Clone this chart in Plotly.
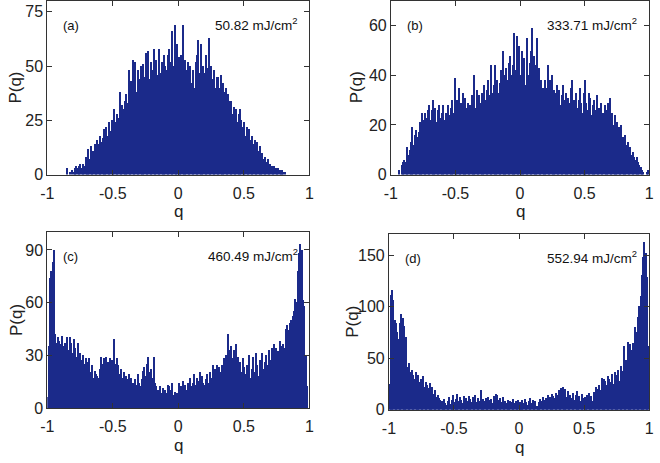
import numpy as np
import plotly.graph_objects as go

# bin centres of the q histograms (bin width 0.01 on [-1, 1])
q_bins = np.round(np.arange(-0.995, 1.0, 0.01), 3)

labels = ["(a)", "(b)", "(c)", "(d)"]
fluences = ["50.82 mJ/cm<sup>2</sup>", "333.71 mJ/cm<sup>2</sup>",
            "460.49 mJ/cm<sup>2</sup>", "552.94 mJ/cm<sup>2</sup>"]

p_a = [
    0, 0, 0, 0, 0, 0, 0, 0, 0, 0,
    0, 0, 0, 0, 0, 3, 0, 1, 0, 2,
    1, 3, 4, 3, 4, 5, 3, 5, 4, 8,
    5, 12, 7, 13, 9, 11, 14, 13, 16, 14,
    18, 15, 17, 21, 16, 22, 18, 24, 20, 25,
    22, 30, 24, 28, 26, 38, 27, 32, 30, 34,
    37, 33, 48, 35, 43, 53, 40, 52, 38, 48,
    44, 50, 40, 51, 45, 56, 49, 57, 44, 52,
    48, 58, 50, 53, 46, 58, 47, 52, 43, 55,
    50, 48, 55, 58, 52, 66, 50, 69, 52, 60,
    54, 50, 55, 69, 49, 53, 48, 52, 45, 50,
    42, 48, 40, 52, 55, 62, 47, 60, 43, 50,
    47, 55, 49, 63, 48, 50, 44, 48, 40, 45,
    45, 40, 46, 36, 42, 38, 40, 33, 37, 34,
    34, 28, 31, 26, 30, 24, 28, 30, 25, 22,
    24, 18, 22, 20, 21, 16, 18, 14, 16, 13,
    15, 11, 13, 9, 10, 7, 8, 6, 7, 5,
    5, 4, 3, 4, 3, 2, 3, 2, 1, 2,
    1, 1, 0, 0, 0, 0, 0, 0, 0, 0,
    0, 0, 0, 0, 0, 0, 0, 0, 0, 0,
]

p_b = [
    0, 0, 0, 0, 0, 0, 2, 0, 4, 5,
    6, 5, 11, 8, 10, 13, 19, 12, 16, 18,
    15, 17, 21, 20, 25, 22, 25, 23, 26, 28,
    22, 26, 30, 24, 27, 21, 26, 28, 23, 25,
    28, 22, 25, 21, 28, 24, 27, 30, 25, 39,
    26, 30, 35, 24, 29, 33, 26, 31, 27, 29,
    22, 28, 32, 25, 40, 27, 34, 30, 32, 29,
    33, 28, 36, 30, 34, 38, 32, 44, 33, 36,
    44, 35, 38, 33, 37, 42, 50, 36, 40, 43,
    38, 45, 48, 40, 44, 57, 42, 56, 46, 52,
    40, 50, 44, 47, 36, 55, 40, 45, 50, 59,
    48, 44, 40, 55, 43, 36, 38, 35, 30, 38,
    35, 44, 33, 38, 40, 30, 34, 33, 36, 31,
    34, 28, 32, 36, 30, 33, 27, 31, 29, 35,
    38, 30, 28, 33, 27, 30, 35, 29, 25, 33,
    38, 29, 26, 33, 31, 24, 28, 30, 26, 32,
    24, 27, 29, 22, 25, 28, 21, 26, 29, 31,
    23, 25, 20, 24, 18, 21, 19, 17, 20, 15,
    14, 16, 12, 13, 9, 11, 8, 9, 7, 6,
    7, 5, 4, 3, 2, 1, 0, 0, 1, 2,
]

p_c = [
    6, 35, 74, 78, 83, 90, 42, 37, 40, 38,
    36, 41, 35, 37, 30, 40, 33, 40, 37, 31,
    39, 34, 29, 37, 28, 31, 27, 30, 25, 28,
    26, 22, 28, 20, 24, 17, 21, 19, 18, 17,
    22, 29, 25, 28, 22, 29, 26, 24, 28, 27,
    22, 39, 25, 28, 24, 19, 22, 17, 20, 14,
    18, 16, 19, 12, 17, 14, 11, 16, 13, 19,
    14, 12, 16, 21, 23, 18, 25, 29, 20, 22,
    17, 29, 14, 12, 10, 9, 12, 8, 11, 7,
    10, 8, 13, 12, 10, 14, 7, 9, 6, 8,
    14, 9, 12, 15, 11, 13, 10, 14, 9, 17,
    12, 14, 19, 13, 17, 15, 20, 12, 18, 14,
    13, 16, 19, 14, 20, 17, 24, 15, 22, 24,
    19, 23, 20, 24, 17, 28, 30, 27, 42, 33,
    35, 28, 33, 31, 36, 29, 22, 26, 20, 28,
    23, 19, 24, 21, 30, 17, 22, 29, 20, 31,
    24, 18, 27, 20, 31, 22, 26, 30, 24, 33,
    27, 34, 30, 36, 34, 28, 32, 38, 35, 30,
    36, 34, 45, 47, 44, 48, 50, 52, 55, 62,
    60, 78, 88, 93, 90, 61, 58, 30, 12, 0,
]

p_d = [
    25, 111, 116, 106, 87, 84, 75, 68, 84, 93,
    89, 81, 62, 70, 41, 45, 36, 38, 33, 30,
    36, 28, 33, 27, 30, 25, 32, 22, 27, 24,
    21, 26, 18, 22, 15, 19, 12, 14, 11, 9,
    8, 5, 10, 6, 4, 8, 12, 5, 9, 14,
    7, 10, 15, 8, 12, 9, 6, 13, 10, 11,
    8, 13, 10, 7, 12, 9, 14, 7, 11, 8,
    19, 6, 10, 8, 11, 7, 12, 9, 10, 6,
    13, 11, 15, 14, 9, 11, 7, 12, 4, 8,
    6, 9, 5, 8, 7, 10, 6, 8, 5, 9,
    7, 5, 9, 6, 10, 7, 4, 8, 11, 6,
    9, 5, 8, 3, 2, 7, 10, 8, 12, 9,
    11, 7, 14, 12, 10, 15, 13, 11, 16, 14,
    19, 17, 21, 22, 15, 20, 12, 18, 10, 14,
    11, 16, 9, 14, 18, 10, 13, 8, 15, 11,
    12, 9, 14, 16, 10, 13, 8, 17, 15, 22,
    20, 24, 19, 31, 26, 30, 28, 24, 32, 30,
    27, 34, 25, 36, 30, 33, 38, 28, 42, 37,
    62, 40, 48, 65, 55, 63, 58, 64, 45, 80,
    75, 90, 100, 110, 130, 148, 162, 152, 128, 62,
]

series = [p_a, p_b, p_c, p_d]
y_ranges = [[0, 80], [0, 70], [0, 100], [0, 170]]
y_ticks = [[0, 25, 50, 75], [0, 20, 40, 60], [0, 30, 60, 90], [0, 50, 100, 150]]
x_ticks = [-1, -0.5, 0, 0.5, 1]
x_ticktext = ["-1", "-0.5", "0", "0.5", "1"]

W, H = 660, 463
# panel boxes in pixels: (left, right, top, bottom)
boxes = [(41, 308, 1, 178), (391, 654, 1, 178), (41, 308, 237, 416), (389, 654, 239, 418)]
ytitle_x = [9, 356, 9, 352]

BAR = "#1b2a8a"
FONT = "Liberation Sans, Arial, sans-serif"

fig = go.Figure()
layout = dict(width=W, height=H, margin=dict(l=0, r=0, t=0, b=0),
              paper_bgcolor="white", plot_bgcolor="white", showlegend=False,
              bargap=0, font=dict(family=FONT, size=16, color="#222"))
annotations = []
for i, (vals, box) in enumerate(zip(series, boxes)):
    xa = "x" if i == 0 else f"x{i+1}"
    ya = "y" if i == 0 else f"y{i+1}"
    fig.add_trace(go.Bar(x=q_bins, y=vals, xaxis=xa, yaxis=ya, width=0.01,
                         marker=dict(color=BAR, line=dict(width=0))))
    l, r, t, b = box
    xd = [l / W, r / W]
    yd = [1 - b / H, 1 - t / H]
    axis_common = dict(showline=True, linecolor="#333", linewidth=1, mirror="ticks",
                       ticks="inside", ticklen=5, tickcolor="#333", showgrid=False,
                       zeroline=False, ticklabeloverflow="allow",
                       tickfont=dict(size=16, family=FONT, color="#222"))
    layout["xaxis" if i == 0 else f"xaxis{i+1}"] = dict(
        domain=xd, range=[-1, 1], tickvals=x_ticks, ticktext=x_ticktext,
        anchor=ya, ticklabelstandoff=4, **axis_common)
    layout["yaxis" if i == 0 else f"yaxis{i+1}"] = dict(
        domain=yd, range=y_ranges[i], tickvals=y_ticks[i], anchor=xa, **axis_common)
    # axis titles
    annotations.append(dict(text="q", xref="paper", yref="paper",
                            x=(l + r) / 2 / W, y=1 - (b + 38) / H,
                            xanchor="center", yanchor="middle",
                            showarrow=False, font=dict(size=17, family=FONT, color="#222")))
    annotations.append(dict(text="P(q)", xref="paper", yref="paper",
                            x=ytitle_x[i] / W, y=1 - (t + b) / 2 / H,
                            xanchor="center", yanchor="middle",
                            textangle=-90, showarrow=False,
                            font=dict(size=17, family=FONT, color="#222")))
    # panel labels and fluence
    annotations.append(dict(text=labels[i], xref="paper", yref="paper",
                            x=(l + 14) / W, y=1 - (t + 25) / H, xanchor="left",
                            yanchor="middle",
                            showarrow=False, font=dict(size=13, family=FONT, color="#111")))
    annotations.append(dict(text=fluences[i], xref="paper", yref="paper",
                            x=(r - 10) / W, y=1 - (t + 23) / H, xanchor="right",
                            yanchor="middle",
                            showarrow=False, font=dict(size=13.5, family=FONT, color="#111")))

layout["annotations"] = annotations
fig.update_layout(**layout)
fig.write_html("out.html", config={"displayModeBar": False},
               post_script="document.body.style.margin='0';document.body.style.overflow='hidden';")
